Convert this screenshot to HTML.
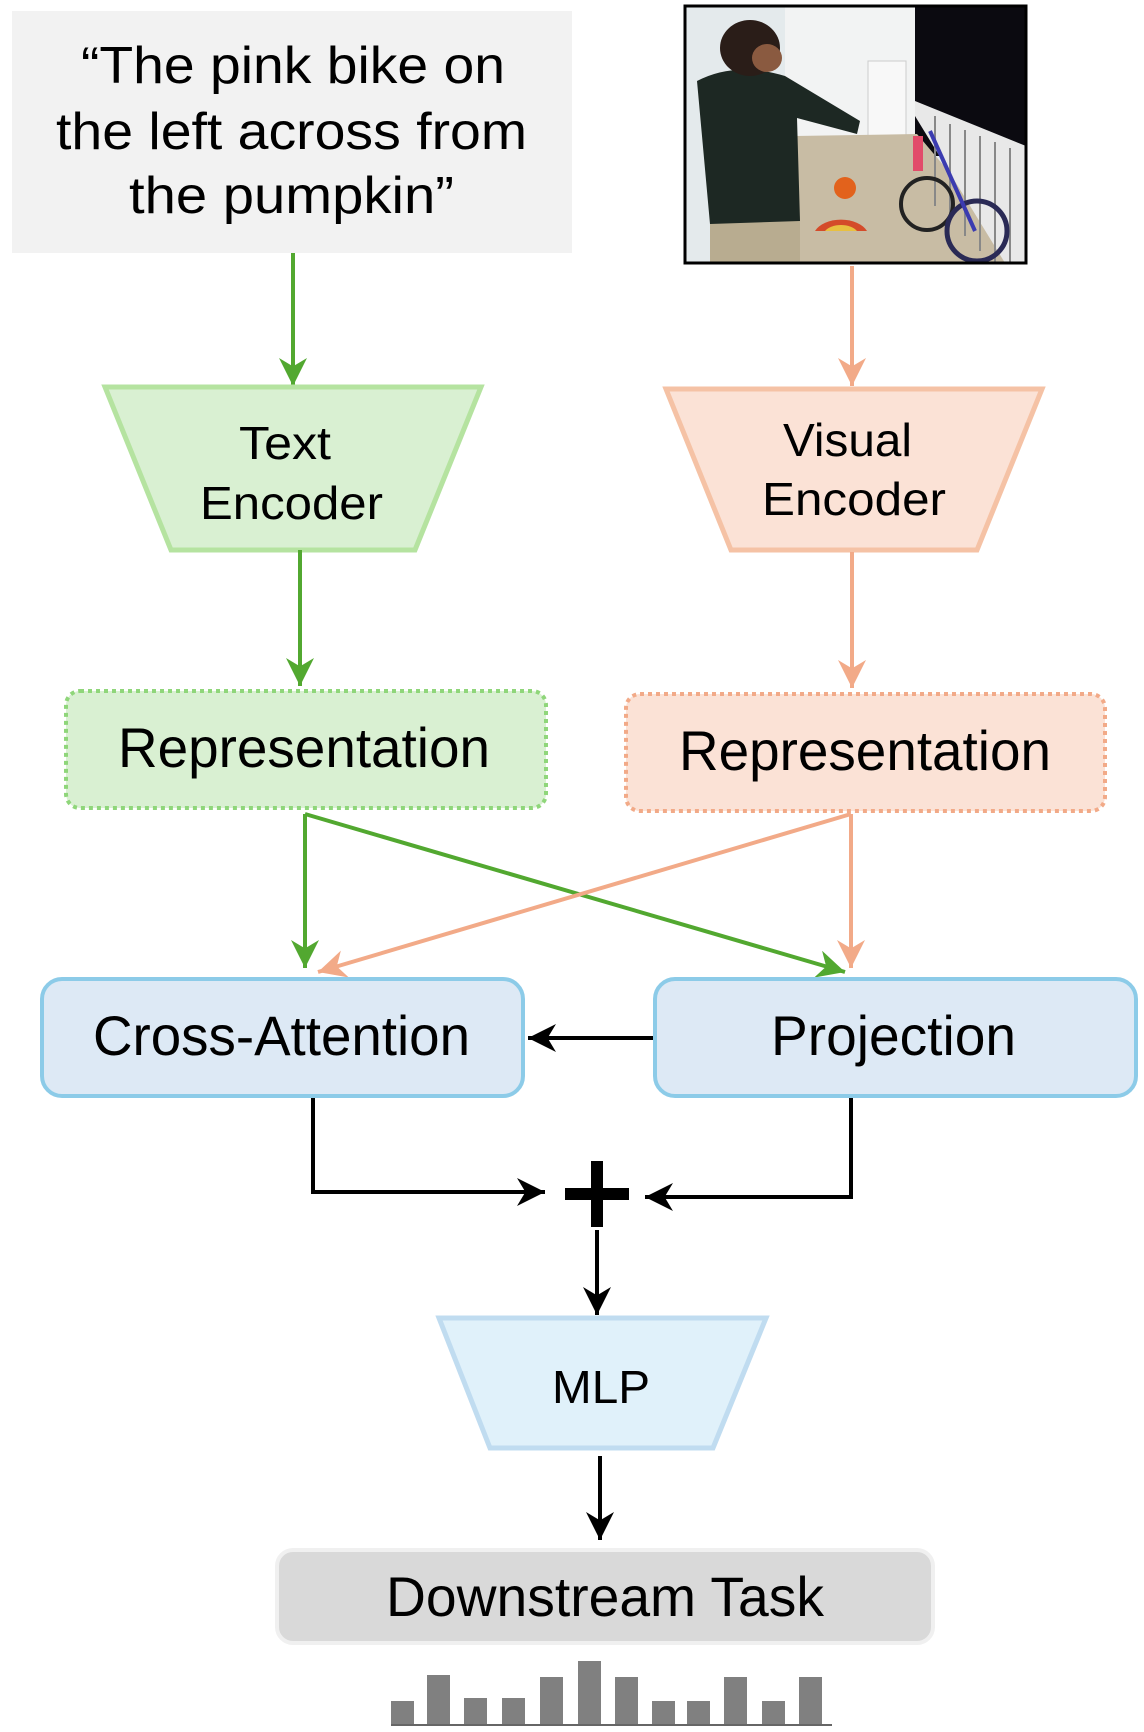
<!DOCTYPE html>
<html><head><meta charset="utf-8"><style>
html,body{margin:0;padding:0;background:#fff;}
svg{display:block;}
text{font-family:"Liberation Sans",sans-serif;fill:#000;}
</style></head><body>
<svg width="1144" height="1732" viewBox="0 0 1144 1732" xmlns="http://www.w3.org/2000/svg">
<defs>
<marker id="ag" markerWidth="28" markerHeight="28" refX="10" refY="5" orient="auto" markerUnits="userSpaceOnUse" viewBox="0 0 10 10"><path d="M0,0 L10,5 L0,10 L3,5 z" fill="#52a830"/></marker>
<marker id="ao" markerWidth="28" markerHeight="28" refX="10" refY="5" orient="auto" markerUnits="userSpaceOnUse" viewBox="0 0 10 10"><path d="M0,0 L10,5 L0,10 L3,5 z" fill="#f2aa88"/></marker>
<marker id="ab" markerWidth="28" markerHeight="28" refX="10" refY="5" orient="auto" markerUnits="userSpaceOnUse" viewBox="0 0 10 10"><path d="M0,0 L10,5 L0,10 L3,5 z" fill="#000"/></marker>
</defs>

<!-- text box -->
<rect x="12" y="11" width="560" height="242" fill="#f2f2f2"/>
<text x="81" y="83" font-size="52" textLength="424" lengthAdjust="spacingAndGlyphs">“The pink bike on</text>
<text x="56" y="149" font-size="52" textLength="471" lengthAdjust="spacingAndGlyphs">the left across from</text>
<text x="129" y="213" font-size="52" textLength="325" lengthAdjust="spacingAndGlyphs">the pumpkin”</text>

<!-- photo -->
<g transform="translate(685,6)">
<rect x="0" y="0" width="341" height="257" fill="#e4eaec"/>
<rect x="230" y="0" width="111" height="150" fill="#0b0a10"/>
<rect x="100" y="0" width="130" height="130" fill="#f2f3f3"/>
<rect x="183" y="55" width="38" height="75" fill="#f8f8f8" stroke="#ccc"/>
<polygon points="110,130 232,128 341,257 110,257" fill="#c8bca4"/>
<polygon points="230,95 341,140 341,257 320,257 230,110" fill="#e8e8e8"/>
<g stroke="#888" stroke-width="2">
<line x1="250" y1="110" x2="250" y2="200"/><line x1="265" y1="118" x2="265" y2="215"/><line x1="280" y1="124" x2="280" y2="230"/><line x1="295" y1="130" x2="295" y2="245"/><line x1="310" y1="136" x2="310" y2="257"/><line x1="325" y1="142" x2="325" y2="257"/>
</g>
<circle cx="160" cy="182" r="11" fill="#e2621c"/>
<path d="M130,225 A28,18 0 0 1 182,225 z" fill="#d44b2a"/>
<path d="M140,225 A18,11 0 0 1 172,225 z" fill="#e8c040"/>
<circle cx="242" cy="198" r="26" fill="none" stroke="#222" stroke-width="4"/>
<circle cx="292" cy="225" r="30" fill="none" stroke="#2a2a55" stroke-width="5"/>
<line x1="245" y1="125" x2="290" y2="225" stroke="#3b3bb0" stroke-width="4"/>
<rect x="228" y="130" width="10" height="35" fill="#e24b6a"/>
<!-- person -->
<rect x="25" y="210" width="90" height="47" fill="#b8ac90"/>
<path d="M12,75 Q50,55 100,70 L175,115 L172,128 L112,112 L115,215 L25,218 Z" fill="#1d2823"/>
<ellipse cx="65" cy="42" rx="30" ry="28" fill="#2a1d18"/>
<ellipse cx="82" cy="52" rx="15" ry="14" fill="#8a5a40"/>
</g>
<rect x="685" y="6" width="341" height="257" fill="none" stroke="#000" stroke-width="3"/>

<!-- arrows top -->
<line x1="293" y1="253" x2="293" y2="386" stroke="#52a830" stroke-width="4" marker-end="url(#ag)"/>
<line x1="852" y1="266" x2="852" y2="386" stroke="#f2aa88" stroke-width="4" marker-end="url(#ao)"/>

<!-- encoders -->
<polygon points="105,387 481,387 415,550 171,550" fill="#d9f0d2" stroke="#b5e3a0" stroke-width="5"/>
<text x="239" y="459" font-size="46" textLength="92" lengthAdjust="spacingAndGlyphs">Text</text>
<text x="200" y="519" font-size="46" textLength="183" lengthAdjust="spacingAndGlyphs">Encoder</text>
<polygon points="666,389 1042,389 977,550 731,550" fill="#fbe2d6" stroke="#f5c2a5" stroke-width="5"/>
<text x="783" y="456" font-size="46" textLength="129" lengthAdjust="spacingAndGlyphs">Visual</text>
<text x="762" y="515" font-size="46" textLength="184" lengthAdjust="spacingAndGlyphs">Encoder</text>

<line x1="300" y1="550" x2="300" y2="686" stroke="#52a830" stroke-width="4" marker-end="url(#ag)"/>
<line x1="852" y1="552" x2="852" y2="688" stroke="#f2aa88" stroke-width="4" marker-end="url(#ao)"/>

<!-- representations -->
<rect x="66" y="691" width="480" height="117" rx="14" fill="#d9f0d2" stroke="#8fd67a" stroke-width="4" stroke-dasharray="4 4"/>
<text x="118" y="767" font-size="56" textLength="372" lengthAdjust="spacingAndGlyphs">Representation</text>
<rect x="626" y="694" width="479" height="117" rx="14" fill="#fbe2d6" stroke="#f2aa88" stroke-width="4" stroke-dasharray="4 4"/>
<text x="679" y="770" font-size="56" textLength="372" lengthAdjust="spacingAndGlyphs">Representation</text>

<!-- cross connectors -->
<polyline points="305,814 305,968" fill="none" stroke="#52a830" stroke-width="4" marker-end="url(#ag)"/>
<line x1="305" y1="814" x2="845" y2="972" stroke="#52a830" stroke-width="4" marker-end="url(#ag)"/>
<line x1="851" y1="814" x2="318" y2="972" stroke="#f2aa88" stroke-width="4" marker-end="url(#ao)"/>
<line x1="851" y1="814" x2="851" y2="968" stroke="#f2aa88" stroke-width="4" marker-end="url(#ao)"/>

<!-- cross-attention & projection -->
<rect x="42" y="979" width="481" height="117" rx="20" fill="#dde9f5" stroke="#8ccbe8" stroke-width="4"/>
<text x="93" y="1055" font-size="56" textLength="377" lengthAdjust="spacingAndGlyphs">Cross-Attention</text>
<rect x="655" y="979" width="481" height="117" rx="20" fill="#dde9f5" stroke="#8ccbe8" stroke-width="4"/>
<text x="771" y="1055" font-size="56" textLength="245" lengthAdjust="spacingAndGlyphs">Projection</text>
<line x1="653" y1="1038" x2="528" y2="1038" stroke="#000" stroke-width="4" marker-end="url(#ab)"/>

<!-- to plus -->
<polyline points="313,1098 313,1192 545,1192" fill="none" stroke="#000" stroke-width="4" marker-end="url(#ab)"/>
<polyline points="851,1098 851,1197 645,1197" fill="none" stroke="#000" stroke-width="4" marker-end="url(#ab)"/>
<rect x="591" y="1161" width="12" height="66" fill="#000"/>
<rect x="565" y="1188" width="64" height="12" fill="#000"/>
<line x1="597" y1="1230" x2="597" y2="1315" stroke="#000" stroke-width="4" marker-end="url(#ab)"/>

<!-- MLP -->
<polygon points="439,1318 766,1318 713,1448 490,1448" fill="#e0f1fa" stroke="#c0dcf0" stroke-width="5"/>
<text x="552" y="1403" font-size="46" textLength="98" lengthAdjust="spacingAndGlyphs">MLP</text>
<line x1="600" y1="1456" x2="600" y2="1540" stroke="#000" stroke-width="4" marker-end="url(#ab)"/>

<!-- downstream -->
<rect x="277" y="1550" width="656" height="93" rx="16" fill="#d9d9d9" stroke="#f0f0f0" stroke-width="4"/>
<text x="386" y="1616" font-size="56" textLength="438" lengthAdjust="spacingAndGlyphs">Downstream Task</text>

<!-- bars -->
<g fill="#808080">
<rect x="391" y="1701" width="23" height="23"/>
<rect x="427" y="1675" width="23" height="49"/>
<rect x="464" y="1698" width="23" height="26"/>
<rect x="502" y="1698" width="23" height="26"/>
<rect x="540" y="1677" width="23" height="47"/>
<rect x="578" y="1661" width="23" height="63"/>
<rect x="615" y="1677" width="23" height="47"/>
<rect x="652" y="1701" width="23" height="23"/>
<rect x="687" y="1701" width="23" height="23"/>
<rect x="724" y="1677" width="23" height="47"/>
<rect x="762" y="1701" width="23" height="23"/>
<rect x="799" y="1677" width="23" height="47"/>
</g>
<line x1="391" y1="1725" x2="832" y2="1725" stroke="#666" stroke-width="2"/>
</svg>
</body></html>
